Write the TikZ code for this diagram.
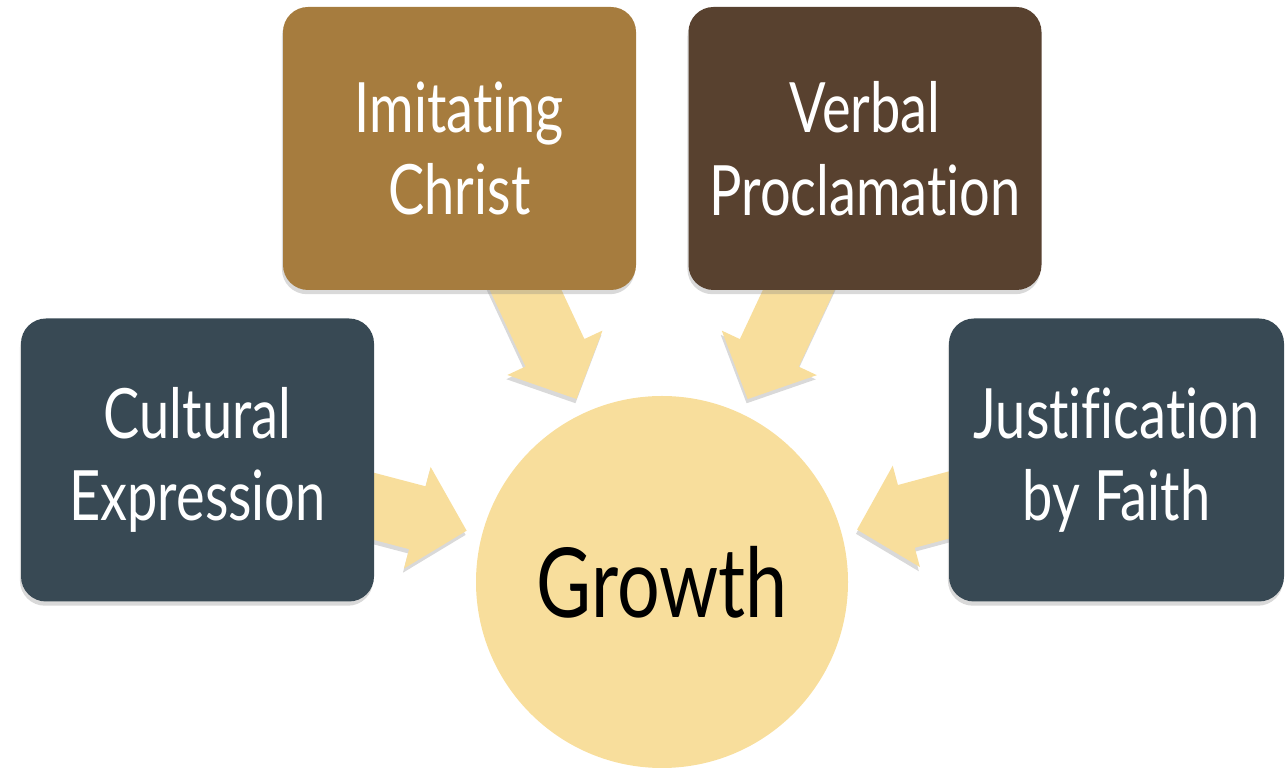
\documentclass[tikz,border=0pt]{standalone}
\usepackage{fontspec}
\setmainfont{Lato}[FakeStretch=0.78, Ligatures=NoCommon]
\usepackage{tikz}
\usetikzlibrary{calc,shadows}
\pgfdeclarelayer{background}
\pgfsetlayers{background,main}
\definecolor{grwcolor1}{HTML}{A67C3E}
\definecolor{grwcolor2}{HTML}{58412F}
\definecolor{grwcolor3}{HTML}{384954}
\definecolor{grwfill}{HTML}{F8DE9C}
\tikzstyle{grwshadow} = [drop shadow = {shadow xshift = -0.6pt, shadow yshift = -2.4pt, opacity = 0.3}]
\tikzstyle{themebox} = [rectangle, rounded corners = 0.5cm, text = white, align = center, minimum width = 7.06cm, minimum height = 5.66cm, inner sep = 0pt, font = \fontsize{39.5}{47}\selectfont, grwshadow]
\tikzstyle{boxcl1} = [fill = grwcolor1]
\tikzstyle{boxcl2} = [fill = grwcolor2]
\tikzstyle{boxcl3} = [fill = grwcolor3]
\tikzstyle{growthnode} = [circle, fill = grwfill, minimum size = 7.44cm, inner sep = 0pt, font = \fontsize{55}{60}\selectfont]
\tikzstyle{feedarrow} = [fill = grwfill, grwshadow]
% block arrow from box #1 into the circle, tail at distance #2 from its centre
\newcommand{\growarrow}[2]{%
\coordinate (tip) at ($(growth.center)!4.04cm!(#1)$);
\coordinate (base) at ($(growth.center)!5.06cm!(#1)$);
\coordinate (tail) at ($(growth.center)!#2!(#1)$);
\path[feedarrow] (tip) -- ($(base)!1.05cm!90:(tip)$) -- ($(base)!0.65cm!90:(tip)$)
  -- ($(tail)!0.65cm!90:(tip)$) -- ($(tail)!0.65cm!-90:(tip)$)
  -- ($(base)!0.65cm!-90:(tip)$) -- ($(base)!1.05cm!-90:(tip)$) -- cycle;
}

\begin{document}
\begin{tikzpicture}
\useasboundingbox (0, 0) rectangle (25.72, 15.42);
\node[growthnode] (growth) at (13.24, 3.78) {Growth};
\node[themebox, boxcl1] (imit) at (9.19, 12.45) {Imitating\\Christ};
\node[themebox, boxcl2] (verbal) at (17.30, 12.45) {Verbal\\Proclamat{\kern0pt}ion};
\node[themebox, boxcl3] (cult) at (3.95, 6.22) {Cultural\\Expression};
\node[themebox, boxcl3, minimum width = 6.70cm] (just) at (22.33, 6.22) {Justification\\by Faith};
\begin{pgfonlayer}{background}
\growarrow{imit}{6.84cm}
\growarrow{verbal}{6.84cm}
\growarrow{cult}{6.34cm}
\growarrow{just}{6.34cm}
\end{pgfonlayer}
\end{tikzpicture}
\end{document}
